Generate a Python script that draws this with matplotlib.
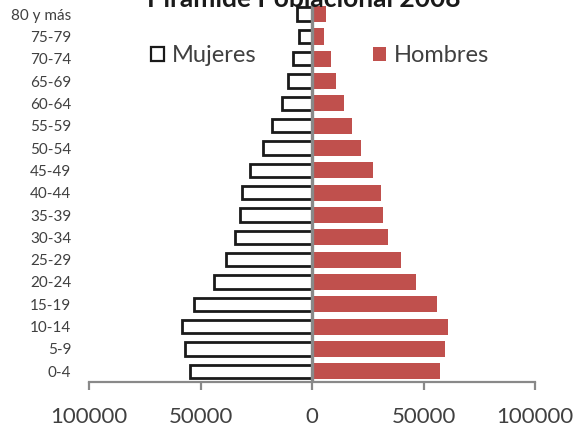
import matplotlib
matplotlib.use("Agg")
import matplotlib.pyplot as plt
from matplotlib.patches import Patch
from matplotlib.ticker import FixedLocator, FuncFormatter

# Age groups, youngest first (bottom of the pyramid)
grupos = ["0-4", "5-9", "10-14", "15-19", "20-24", "25-29", "30-34", "35-39",
          "40-44", "45-49", "50-54", "55-59", "60-64", "65-69", "70-74",
          "75-79", "80 y más"]
mujeres = [54900, 57200, 58400, 53200, 44100, 38800, 34800, 32500,
           31500, 27900, 22300, 18000, 13800, 10700, 8700, 5800, 7000]
hombres = [57400, 59700, 60800, 55700, 46600, 39700, 33900, 31800,
           30600, 27200, 21900, 18000, 14100, 10700, 8400, 5400, 6000]
xticks = [-100000, -50000, 0, 50000, 100000]

TXT = "#404040"
AXC = "#898989"
ROJO = "#C0504D"
FONT = ["Lato", "DejaVu Sans"]
plt.rcParams["font.family"] = FONT

W, H = 579, 428
fig = plt.figure(figsize=(W / 100, H / 100), dpi=100)
ax = fig.add_axes([89.3 / W, (H - 382.4) / H, 446 / W, 379.4 / H])

y = list(range(len(grupos)))
ax.barh(y, [-v for v in mujeres], height=0.6, color="white",
        edgecolor="#1a1a1a", linewidth=2.0, zorder=2, label="Mujeres")
ax.barh(y, hombres, height=0.72, color=ROJO, edgecolor="none",
        zorder=2, label="Hombres")

ax.set_xlim(-100000, 100000)
ax.set_ylim(-0.5, len(grupos) - 0.5)

# vertical axis through zero
ax.axvline(0, color=AXC, linewidth=2.4, zorder=3)

for s in ("left", "right", "top"):
    ax.spines[s].set_visible(False)
ax.spines["bottom"].set_color(AXC)
ax.spines["bottom"].set_linewidth(1.6)

ax.xaxis.set_major_locator(FixedLocator(xticks))
ax.xaxis.set_major_formatter(FuncFormatter(lambda v, p: f"{abs(int(v))}"))
ax.tick_params(axis="x", direction="out", length=6, width=1.6, color=AXC,
               labelsize=16, labelcolor=TXT, pad=11.5)

ax.set_yticks(y)
ax.set_yticklabels(grupos)
ax.tick_params(axis="y", length=0, labelsize=11, labelcolor=TXT, pad=13)

fig.text(303.5 / W, (H - 7.3) / H, "Pirámide Poblacional 2008",
         ha="center", va="baseline", fontsize=19, fontweight="bold",
         color="#1a1a1a")

handles = [Patch(facecolor="white", edgecolor="#1a1a1a", linewidth=1.6),
           Patch(facecolor=ROJO, edgecolor="none")]
leg = ax.legend(handles, ["Mujeres", "Hombres"], ncol=2, frameon=False,
                loc="center left", bbox_to_anchor=(151 / W, (H - 56) / H),
                bbox_transform=fig.transFigure, fontsize=17,
                handlelength=0.55, handleheight=0.55, handletextpad=0.35,
                columnspacing=4.9, borderpad=0, borderaxespad=0)
for t in leg.get_texts():
    t.set_color(TXT)

fig.savefig("out.png", dpi=100)
